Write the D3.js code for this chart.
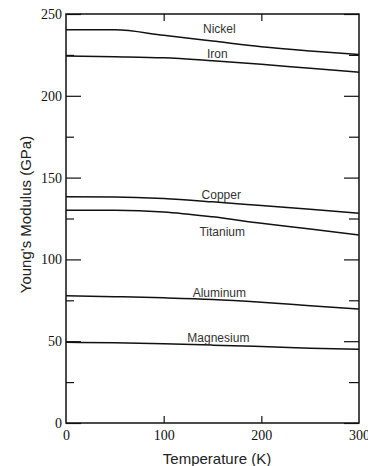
<!DOCTYPE html>
<html>
<head>
<meta charset="utf-8">
<script src="https://cdn.jsdelivr.net/npm/d3@7"></script>
<style>
  html, body { margin: 0; padding: 0; background: #fff; }
  svg { display: block; }
  .tick-label text { font-family: "Liberation Serif", "Times New Roman", serif; font-size: 14px; fill: #111; }
  .title { font-family: "Liberation Sans", Arial, sans-serif; font-size: 15px; fill: #222; }
  .series-label { font-family: "Liberation Sans", Arial, sans-serif; font-size: 12px; fill: #333; }
</style>
</head>
<body>
<svg id="chart" width="368" height="466"></svg>
<script>
const temperatures = [0, 50, 100, 150, 200, 250, 300];

// Young's modulus (GPa) per metal
const nickel    = [240.4, 240.3, 237.0, 233.5, 230.0, 227.4, 225.2];
const iron      = [224.4, 223.9, 223.2, 221.4, 219.3, 216.8, 214.4];
const copper    = [138.3, 138.2, 137.2, 135.2, 132.9, 130.6, 128.2];
const titanium  = [130.0, 130.0, 129.0, 126.0, 122.1, 118.6, 114.9];
const aluminum  = [77.8, 77.2, 76.5, 75.5, 73.8, 71.7, 69.7];
const magnesium = [49.3, 49.0, 48.4, 47.6, 46.7, 45.7, 45.0];

const seriesNames = ['Nickel', 'Iron', 'Copper', 'Titanium', 'Aluminum', 'Magnesium'];
const seriesValues = [nickel, iron, copper, titanium, aluminum, magnesium];

// Where each name sits (temperature, modulus)
const labelTemps = [157, 155, 159, 160, 157, 156];
const labelValues = [240.6, 225.3, 139.3, 116.9, 79.4, 51.7];

const yMajorTicks = [0, 50, 100, 150, 200, 250];
const yMinorTicks = [25, 75, 125, 175, 225];
const xTicks = [0, 100, 200, 300];
const xInnerTicks = [100, 200];

const svg = d3.select('#chart');

// plot box in pixels
const box = { left: 66, right: 359, top: 14, bottom: 423 };
const x = d3.scaleLinear().domain([0, 300]).range([box.left, box.right]);
const y = d3.scaleLinear().domain([0, 250]).range([box.bottom, box.top]);

function cleanAxis(g) {
  g.select('.domain').remove();
  g.selectAll('.tick line').attr('stroke', '#111').attr('stroke-width', 1.2);
}

// left: labels + inward major/minor ticks
svg.append('g')
  .attr('class', 'tick-label')
  .attr('transform', `translate(${box.left},0)`)
  .call(d3.axisLeft(y).tickValues(yMajorTicks).tickSize(-15).tickPadding(4).tickFormat(d3.format('d')))
  .call(cleanAxis)
  .selectAll('text').attr('fill', '#111');

svg.append('g')
  .attr('transform', `translate(${box.left},0)`)
  .call(d3.axisLeft(y).tickValues(yMinorTicks).tickSize(-8).tickFormat(''))
  .call(cleanAxis);

// right: ticks only
svg.append('g')
  .attr('transform', `translate(${box.right},0)`)
  .call(d3.axisRight(y).tickValues(yMajorTicks).tickSize(-15).tickFormat(''))
  .call(cleanAxis);

svg.append('g')
  .attr('transform', `translate(${box.right},0)`)
  .call(d3.axisRight(y).tickValues(yMinorTicks).tickSize(-10).tickFormat(''))
  .call(cleanAxis);

// bottom: labels and short inward ticks
svg.append('g')
  .attr('class', 'tick-label')
  .attr('transform', `translate(0,${box.bottom})`)
  .call(d3.axisBottom(x).tickValues(xTicks).tickSize(0).tickPadding(7).tickFormat(d3.format('d')))
  .call(cleanAxis)
  .selectAll('text').attr('fill', '#111');

svg.append('g')
  .attr('transform', `translate(0,${box.bottom})`)
  .call(d3.axisBottom(x).tickValues(xInnerTicks).tickSize(-7).tickFormat(''))
  .call(cleanAxis);

svg.append('g')
  .attr('transform', `translate(0,${box.top})`)
  .call(d3.axisTop(x).tickValues(xInnerTicks).tickSize(-7).tickFormat(''))
  .call(cleanAxis);

// frame
svg.append('rect')
  .attr('x', box.left)
  .attr('y', box.top)
  .attr('width', box.right - box.left)
  .attr('height', box.bottom - box.top)
  .attr('fill', 'none')
  .attr('stroke', '#111')
  .attr('stroke-width', 1.5);

// curves
const line = d3.line()
  .x((d, i) => x(temperatures[i]))
  .y((d) => y(d))
  .curve(d3.curveMonotoneX);

svg.append('g')
  .selectAll('path')
  .data(seriesValues)
  .join('path')
  .attr('d', line)
  .attr('fill', 'none')
  .attr('stroke', '#111')
  .attr('stroke-width', 1.5);

svg.append('g')
  .selectAll('text')
  .data(seriesNames)
  .join('text')
  .attr('class', 'series-label')
  .attr('x', (d, i) => x(labelTemps[i]))
  .attr('y', (d, i) => y(labelValues[i]))
  .attr('text-anchor', 'middle')
  .attr('dominant-baseline', 'central')
  .text((d) => d);

// axis titles
svg.append('text')
  .attr('class', 'title')
  .attr('x', 217)
  .attr('y', 458)
  .attr('text-anchor', 'middle')
  .attr('dominant-baseline', 'central')
  .text('Temperature (K)');

svg.append('text')
  .attr('class', 'title')
  .attr('transform', `translate(25,${(box.top + box.bottom) / 2 - 4}) rotate(-90)`)
  .attr('text-anchor', 'middle')
  .attr('dominant-baseline', 'central')
  .text("Young's Modulus (GPa)");
</script>
</body>
</html>
